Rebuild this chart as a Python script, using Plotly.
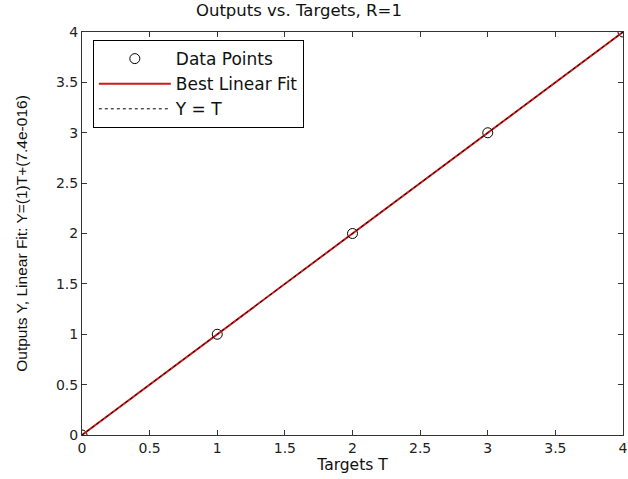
import plotly.graph_objects as go

targets = [0, 1, 2, 3, 4]
outputs = [0, 1, 2, 3, 4]
fit_x = [0, 4]
fit_y = [0, 4]
ident_x = [0, 4]
ident_y = [0, 4]
x_ticks = [0, 0.5, 1, 1.5, 2, 2.5, 3, 3.5, 4]
y_ticks = [0, 0.5, 1, 1.5, 2, 2.5, 3, 3.5, 4]

FONT = "DejaVu Sans, Arial, sans-serif"

fig = go.Figure()
fig.add_trace(go.Scatter(x=targets, y=outputs, mode="markers", name="Data Points",
                         marker=dict(symbol="circle-open", size=10, color="black", line=dict(width=1))))
fig.add_trace(go.Scatter(x=fit_x, y=fit_y, mode="lines", name="Best Linear Fit",
                         line=dict(color="#cc1a1a", width=2)))
fig.add_trace(go.Scatter(x=ident_x, y=ident_y, mode="lines", name="Y = T",
                         line=dict(color="black", width=1, dash="dot")))

axis_common = dict(showgrid=False, zeroline=False, showline=True, linecolor="#333",
                   linewidth=1, mirror="ticks", ticks="inside", ticklen=5, tickcolor="#333",
                   ticklabeloverflow="allow", automargin=False,
                   tickfont=dict(family=FONT, size=14, color="#222"))

fig.update_layout(
    width=628, height=479,
    margin=dict(l=82, r=5, t=32, b=44),
    paper_bgcolor="white", plot_bgcolor="white",
    title=dict(text="Outputs vs. Targets, R=1", x=0.476, xanchor="center", y=0.99, yanchor="top",
               font=dict(family=FONT, size=16.5, color="#111")),
    xaxis=dict(range=[0, 4], tickvals=x_ticks, ticktext=[f"{v:g}" for v in x_ticks],
               title=dict(text="Targets T", standoff=0,
                          font=dict(family=FONT, size=15.5, color="#111")),
               **axis_common),
    yaxis=dict(range=[0, 4], tickvals=y_ticks, ticktext=[f"{v:g}" for v in y_ticks],
               title=dict(text="Outputs Y, Linear Fit: Y=(1)T+(7.4e-016)", standoff=24,
                          font=dict(family="Liberation Sans, Arial, sans-serif", size=15.5, color="#111")),
               **axis_common),
    legend=dict(x=0.02, y=0.98, xanchor="left", yanchor="top", bordercolor="black", borderwidth=1,
                bgcolor="white", font=dict(family=FONT, size=17, color="#111"),
                tracegroupgap=0, itemwidth=72),
    showlegend=True,
)
fig.write_html("out.html")
